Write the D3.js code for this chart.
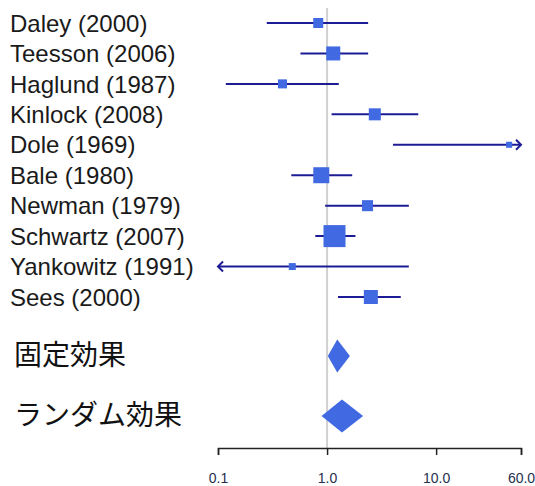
<!DOCTYPE html>
<html>
<head>
<meta charset="utf-8">
<script src="https://cdnjs.cloudflare.com/ajax/libs/d3/7.8.5/d3.min.js"></script>
<style>
  html, body { margin: 0; padding: 0; background: #fff; }
  svg { display: block; }
</style>
</head>
<body>
<svg id="chart" width="535" height="486"></svg>
<script>
// study data (odds ratios, log scale)
const studies = ["Daley (2000)", "Teesson (2006)", "Haglund (1987)", "Kinlock (2008)", "Dole (1969)",
                 "Bale (1980)", "Newman (1979)", "Schwartz (2007)", "Yankowitz (1991)", "Sees (2000)"]
const estimate = [0.83, 1.14, 0.39, 2.74, 46.7, 0.885, 2.35, 1.17, 0.48, 2.52]
const lower    = [0.28, 0.57, 0.118, 1.10, 4.02, 0.47, 0.96, 0.78, 0.05, 1.26]
const upper    = [2.38, 2.38, 1.28, 6.86, 150, 1.70, 5.62, 1.82, 5.62, 4.74]
const weight   = [6.0, 11.8, 4.9, 8.7, 2.2, 15.4, 7.3, 29.1, 2.9, 11.8]

// pooled estimates
const summaryLabels = ["固定効果", "ランダム効果"]
const summaryEst   = [1.24, 1.37]
const summaryLower = [1.015, 0.89]
const summaryUpper = [1.62, 2.14]

const tickValues = [0.1, 1, 10, 60]
const tickLabels = ["0.1", "1.0", "10.0", "60.0"]

const svg = d3.select('#chart')

const x = d3.scaleLog().domain([0.1, 60]).range([218, 521])
const y = d3.scalePoint().domain(studies).range([23, 297])
const ySum = d3.scalePoint().domain(summaryLabels).range([356, 416])
const size = d3.scaleSqrt().domain([0, d3.max(weight)]).range([0, 22])

const lineColor = '#1c1c96'
const boxColor = '#4169e1'

// reference line at 1
svg.append('line')
  .attr('x1', x(1)).attr('x2', x(1))
  .attr('y1', 8).attr('y2', 448)
  .attr('stroke', '#d0d0d0').attr('stroke-width', 2)

// x axis
const axis = svg.append('g')
  .attr('transform', 'translate(0,448)')
  .call(d3.axisBottom(x).tickValues(tickValues).tickFormat((d, i) => tickLabels[i]).tickSizeOuter(0).tickSize(7).tickPadding(18))
axis.select('.domain').attr('stroke', '#222').attr('stroke-width', 1.5)
axis.selectAll('.tick line').attr('stroke', '#222').attr('stroke-width', 1.5)
axis.selectAll('.tick text')
  .attr('font-family', 'Liberation Sans, Arial, sans-serif')
  .attr('font-size', 14)
  .attr('fill', '#263050')

const rows = studies.map((s, i) => ({
  name: s, est: estimate[i], lo: lower[i], hi: upper[i], w: weight[i]
}))

const [xmin, xmax] = x.domain()

// study labels
svg.append('g').selectAll('text').data(rows).join('text')
  .attr('x', 10)
  .attr('y', d => y(d.name))
  .attr('dy', '0.36em')
  .attr('font-family', 'Liberation Sans, Arial, sans-serif')
  .attr('font-size', 24)
  .attr('fill', '#1a1a1a')
  .text(d => d.name)

// confidence intervals
svg.append('g').selectAll('line').data(rows).join('line')
  .attr('x1', d => x(Math.max(d.lo, xmin)))
  .attr('x2', d => x(Math.min(d.hi, xmax)))
  .attr('y1', d => y(d.name)).attr('y2', d => y(d.name))
  .attr('stroke', lineColor).attr('stroke-width', 2)

// arrows where the interval runs off the axis
const arrows = []
rows.forEach(d => {
  if (d.lo < xmin) arrows.push({ x: x(xmin), y: y(d.name), dir: -1 })
  if (d.hi > xmax) arrows.push({ x: x(xmax), y: y(d.name), dir: 1 })
})
svg.append('g').selectAll('path').data(arrows).join('path')
  .attr('d', a => `M${a.x - a.dir * 5},${a.y - 5}L${a.x},${a.y}L${a.x - a.dir * 5},${a.y + 5}`)
  .attr('fill', 'none').attr('stroke', lineColor).attr('stroke-width', 2)

// weight boxes
svg.append('g').selectAll('rect').data(rows).join('rect')
  .attr('x', d => x(d.est) - size(d.w) / 2)
  .attr('y', d => y(d.name) - size(d.w) / 2)
  .attr('width', d => size(d.w))
  .attr('height', d => size(d.w))
  .attr('fill', boxColor)

// summary diamonds
const sums = summaryLabels.map((s, i) => ({
  name: s, est: summaryEst[i], lo: summaryLower[i], hi: summaryUpper[i]
}))
svg.append('g').selectAll('path').data(sums).join('path')
  .attr('d', d => {
    const cy = ySum(d.name), h = 16.5
    return `M${x(d.lo)},${cy}L${x(d.est)},${cy - h}L${x(d.hi)},${cy}L${x(d.est)},${cy + h}Z`
  })
  .attr('fill', boxColor)

svg.append('g').selectAll('text').data(sums).join('text')
  .attr('x', 14)
  .attr('y', d => ySum(d.name) - 1)
  .attr('dy', '0.36em')
  .attr('font-family', 'Noto Sans CJK JP, sans-serif')
  .attr('font-size', 28)
  .attr('fill', '#111')
  .text(d => d.name)
</script>
</body>
</html>
